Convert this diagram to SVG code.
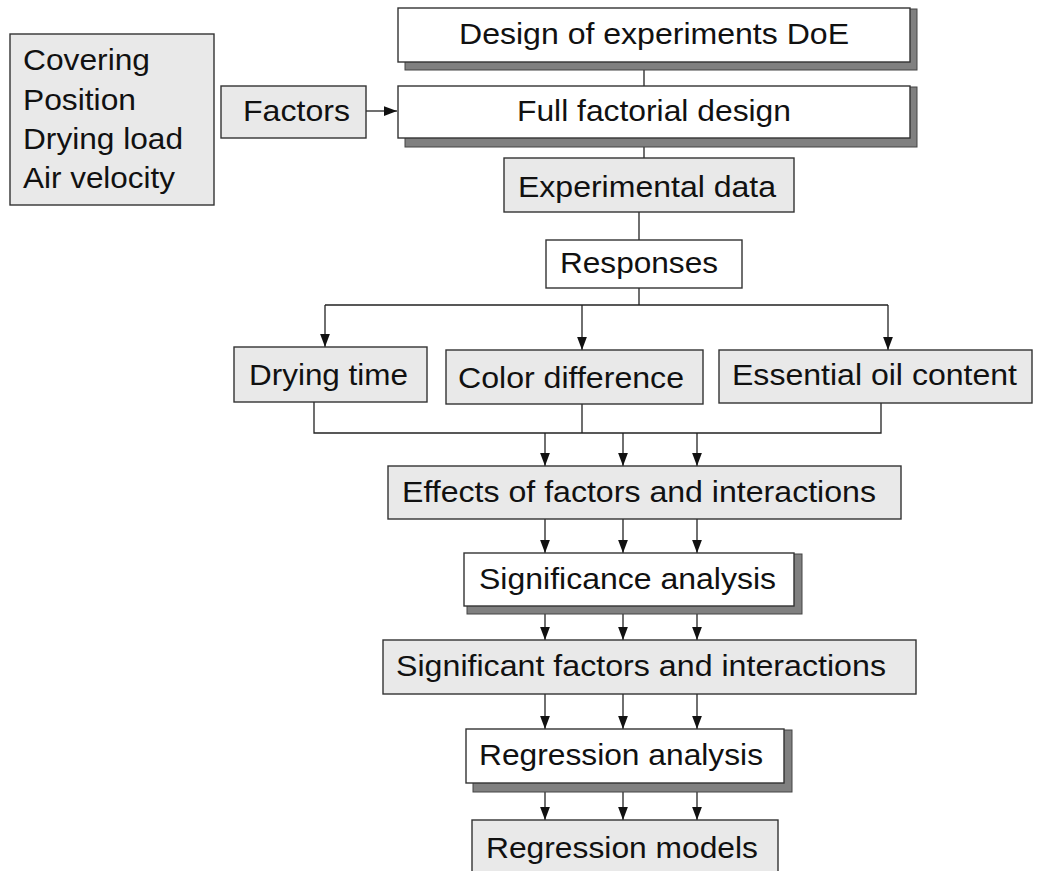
<svg xmlns="http://www.w3.org/2000/svg" width="1037" height="871" viewBox="0 0 1037 871">
  <style>
    .box { stroke: #333333; stroke-width: 1.4; }
    .plain { fill: #ffffff; }
    .grey { fill: #e9e9e9; }
    .shadow { fill: #808080; stroke: #444444; stroke-width: 1; }
    .label { font-family: "Liberation Sans", Arial, sans-serif; font-size: 30px; fill: #111111; }
    .wire { fill: none; stroke: #222222; stroke-width: 1.3; }
  </style>
  <defs>
    <marker id="arrow" viewBox="0 0 12 9" refX="12" refY="4.5" markerWidth="13" markerHeight="10" markerUnits="userSpaceOnUse" orient="auto">
      <path d="M0,0 L12,4.5 L0,9 z" fill="#111111"/>
    </marker>
  </defs>
  <rect width="1037" height="871" fill="#ffffff"/>

  <!-- connectors -->
  <g id="connectors" class="wire">
    <path d="M366,111 H397" marker-end="url(#arrow)"/>
    <path d="M644,62 V86"/>
    <path d="M644,138 V158"/>
    <path d="M639,212 V240"/>
    <path d="M639,288 V305 M325,305 H888"/>
    <path d="M325,305 V347" marker-end="url(#arrow)"/>
    <path d="M582,305 V350" marker-end="url(#arrow)"/>
    <path d="M888,305 V350" marker-end="url(#arrow)"/>
    <path d="M314,402 V433 H881 V403 M582,404 V433"/>
    <path d="M545,433 V466" marker-end="url(#arrow)"/>
    <path d="M623,433 V466" marker-end="url(#arrow)"/>
    <path d="M697,433 V466" marker-end="url(#arrow)"/>
    <path d="M545,519 V553" marker-end="url(#arrow)"/>
    <path d="M623,519 V553" marker-end="url(#arrow)"/>
    <path d="M697,519 V553" marker-end="url(#arrow)"/>
    <path d="M545,606 V640" marker-end="url(#arrow)"/>
    <path d="M623,606 V640" marker-end="url(#arrow)"/>
    <path d="M697,606 V640" marker-end="url(#arrow)"/>
    <path d="M545,694 V729" marker-end="url(#arrow)"/>
    <path d="M623,694 V729" marker-end="url(#arrow)"/>
    <path d="M697,694 V729" marker-end="url(#arrow)"/>
    <path d="M545,783 V820" marker-end="url(#arrow)"/>
    <path d="M623,783 V820" marker-end="url(#arrow)"/>
    <path d="M697,783 V820" marker-end="url(#arrow)"/>
  </g>

  <!-- factor list -->
  <g id="factor-list">
    <rect class="box grey" x="10" y="34" width="204" height="171"/>
    <text class="label" x="23" y="70" textLength="127" lengthAdjust="spacingAndGlyphs">Covering</text>
    <text class="label" x="23" y="110" textLength="113" lengthAdjust="spacingAndGlyphs">Position</text>
    <text class="label" x="23" y="149" textLength="160" lengthAdjust="spacingAndGlyphs">Drying load</text>
    <text class="label" x="23" y="188" textLength="152" lengthAdjust="spacingAndGlyphs">Air velocity</text>
  </g>

  <g id="factors">
    <rect class="box grey" x="221" y="86" width="145" height="52"/>
    <text class="label" x="243" y="121" textLength="107" lengthAdjust="spacingAndGlyphs">Factors</text>
  </g>

  <g id="doe">
    <rect class="shadow" x="405" y="9" width="512" height="61"/>
    <rect class="box plain" x="398" y="8" width="512" height="54"/>
    <text class="label" x="459" y="44" textLength="390" lengthAdjust="spacingAndGlyphs">Design of experiments DoE</text>
  </g>

  <g id="full-factorial">
    <rect class="shadow" x="405" y="87" width="512" height="60"/>
    <rect class="box plain" x="398" y="86" width="512" height="52"/>
    <text class="label" x="517" y="121" textLength="274" lengthAdjust="spacingAndGlyphs">Full factorial design</text>
  </g>

  <g id="experimental-data">
    <rect class="box grey" x="504" y="158" width="290" height="54"/>
    <text class="label" x="518" y="197" textLength="258" lengthAdjust="spacingAndGlyphs">Experimental data</text>
  </g>

  <g id="responses">
    <rect class="box plain" x="546" y="240" width="196" height="48"/>
    <text class="label" x="560" y="273" textLength="158" lengthAdjust="spacingAndGlyphs">Responses</text>
  </g>

  <g id="drying-time">
    <rect class="box grey" x="234" y="347" width="193" height="55"/>
    <text class="label" x="249" y="385" textLength="159" lengthAdjust="spacingAndGlyphs">Drying time</text>
  </g>

  <g id="color-difference">
    <rect class="box grey" x="446" y="350" width="257" height="54"/>
    <text class="label" x="458" y="388" textLength="226" lengthAdjust="spacingAndGlyphs">Color difference</text>
  </g>

  <g id="essential-oil">
    <rect class="box grey" x="719" y="350" width="313" height="53"/>
    <text class="label" x="732" y="385" textLength="285" lengthAdjust="spacingAndGlyphs">Essential oil content</text>
  </g>

  <g id="effects">
    <rect class="box grey" x="388" y="466" width="513" height="53"/>
    <text class="label" x="402" y="502" textLength="474" lengthAdjust="spacingAndGlyphs">Effects of factors and interactions</text>
  </g>

  <g id="significance-analysis">
    <rect class="shadow" x="467" y="554" width="335" height="60"/>
    <rect class="box plain" x="464" y="553" width="330" height="53"/>
    <text class="label" x="479" y="589" textLength="297" lengthAdjust="spacingAndGlyphs">Significance analysis</text>
  </g>

  <g id="significant-factors">
    <rect class="box grey" x="383" y="640" width="533" height="54"/>
    <text class="label" x="396" y="676" textLength="490" lengthAdjust="spacingAndGlyphs">Significant factors and interactions</text>
  </g>

  <g id="regression-analysis">
    <rect class="shadow" x="473" y="730" width="319" height="62"/>
    <rect class="box plain" x="466" y="729" width="318" height="54"/>
    <text class="label" x="479" y="765" textLength="284" lengthAdjust="spacingAndGlyphs">Regression analysis</text>
  </g>

  <g id="regression-models">
    <rect class="box grey" x="472" y="820" width="306" height="70"/>
    <text class="label" x="486" y="858" textLength="272" lengthAdjust="spacingAndGlyphs">Regression models</text>
  </g>
</svg>
